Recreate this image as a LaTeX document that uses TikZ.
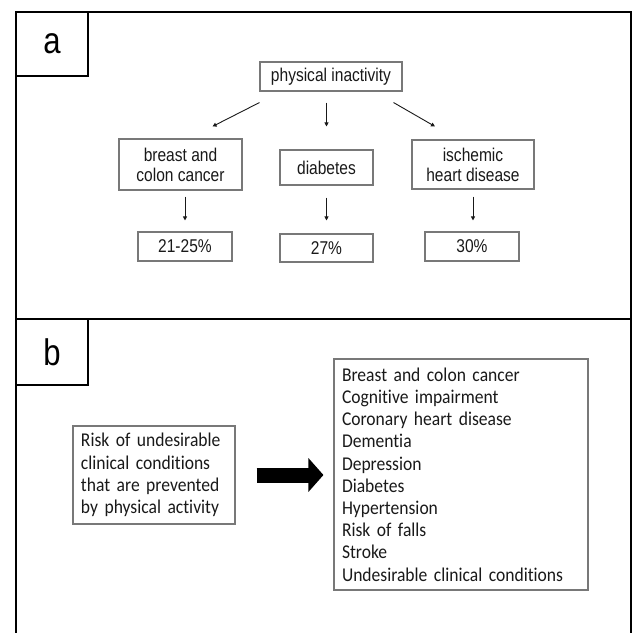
\documentclass[tikz,border=0pt]{standalone}
\usepackage{fontspec}
\setmainfont{Liberation Sans}
\newfontfamily\arialtall[FakeStretch=0.84]{Liberation Sans}
\newfontfamily\calibri[FakeStretch=0.9,Ligatures=NoCommon,WordSpace=0.7]{Carlito}
\usetikzlibrary{arrows.meta}
\definecolor{boxgray}{gray}{0.47}
\definecolor{inkgray}{gray}{0.1}
\tikzstyle{panelline} = [line width=2pt,black]
\tikzstyle{tag} = [draw,line width=2pt,minimum width=72pt,inner sep=0pt,font=\arialtall\fontsize{37}{37}\selectfont]
\tikzstyle{abox} = [draw=boxgray,line width=1.1pt,align=center,inner sep=0pt,text=inkgray,font=\arialtall\fontsize{18.5}{20}\selectfont]
\tikzstyle{bbox} = [draw=boxgray,line width=1.1pt,align=left,inner xsep=8pt,inner ysep=0pt,text=inkgray,font=\calibri\fontsize{19.5}{22.2}\selectfont]
\tikzstyle{thinarrow} = [draw=inkgray,line width=0.9pt,-{Triangle[length=4pt,width=4pt]}]
\tikzstyle{blockarrow} = [draw=black,line width=15pt,-{Triangle[length=15pt,width=33pt]}]

\begin{document}
\begin{tikzpicture}[x=1pt,y=-1pt]
  \useasboundingbox (0,0) rectangle (633,633);
  % panels
  \draw[panelline] (16,633) -- (16,12) -- (631,12) -- (631,633);
  \draw[panelline] (16,319) -- (631,319);
  \node[tag,minimum height=64pt] (taga) at (52,44) {a};
  \node[tag,minimum height=66pt] (tagb) at (52,352) {b};

  % panel a
  \node[abox,minimum width=142pt,minimum height=29pt] (inact) at (331,76.5) {physical inactivity};
  \node[abox,minimum width=123pt,minimum height=51pt] (cancer) at (180.5,164.5) {breast and\\colon cancer};
  \node[abox,minimum width=93pt,minimum height=35pt] (diab) at (326.5,167.5) {diabetes};
  \node[abox,minimum width=122pt,minimum height=49pt] (heart) at (473,164.5) {ischemic\\heart disease};
  \node[abox,minimum width=94pt,minimum height=29pt] (pcancer) at (185,246.5) {21-25\%};
  \node[abox,minimum width=93pt,minimum height=28pt] (pdiab) at (326.5,248) {27\%};
  \node[abox,minimum width=94pt,minimum height=29pt] (pheart) at (472,246.5) {30\%};

  \draw[thinarrow] ([yshift=-11pt]inact.south west) -- ([xshift=32pt,yshift=12pt]cancer.north);
  \draw[thinarrow,shorten <=11pt,shorten >=23pt] (inact.south -| diab.north) -- (diab.north);
  \draw[thinarrow] ([xshift=-9pt,yshift=-11pt]inact.south east) -- ([xshift=-38pt,yshift=13pt]heart.north);
  \draw[thinarrow,shorten <=6pt,shorten >=11pt] (cancer.south -| pcancer.north) -- (pcancer.north);
  \draw[thinarrow,shorten <=12pt,shorten >=13pt] (diab.south) -- (pdiab.north);
  \draw[thinarrow,shorten <=7pt,shorten >=11pt] (heart.south) -- (heart.south |- pheart.north);

  % panel b
  \node[bbox,text width=146pt,minimum height=98pt] (risk) at (154,475)
    {Risk of undesirable\\clinical conditions\\that are prevented\\by physical activity};
  \node[bbox,text width=238pt,minimum height=231pt] (list) at (461,474.5)
    {Breast and colon cancer\\Cognitive impairment\\Coronary heart disease\\Dementia\\Depression\\Diabetes\\Hypertension\\Risk of falls\\Stroke\\Undesirable clinical conditions};
  \draw[blockarrow] ([xshift=21pt]risk.east) -- ([xshift=-10pt]risk.east -| list.west);
\end{tikzpicture}
\end{document}
